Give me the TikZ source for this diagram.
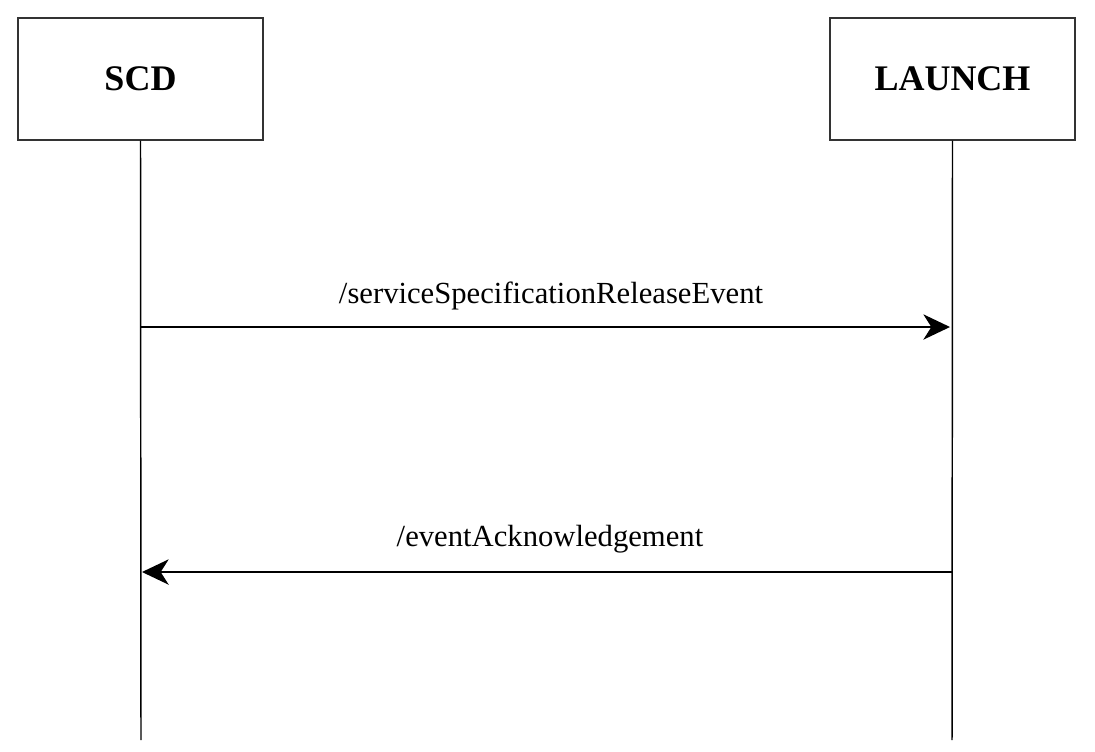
\documentclass[tikz,border=0pt]{standalone}
\usepackage{fontspec}
\setmainfont{Liberation Serif}
\usetikzlibrary{arrows.meta}

\tikzset{
  actor/.style={draw=black!80, thick, minimum width=183.75pt, minimum height=91.5pt,
    font=\fontsize{27}{30}\selectfont\bfseries},
  lifeline/.style={line width=1.1pt},
  msg/.style={line width=1.1pt, -{Stealth[length=20pt, width=19pt, inset=6pt]}},
  msglabel/.style={font=\fontsize{23}{27}\selectfont}
}

\begin{document}
\begin{tikzpicture}[x=0.75pt, y=-0.75pt]
\useasboundingbox (0,0) rectangle (1095,751);

\node[actor] (scd) at (140.5,79) {SCD};
\node[actor] (launch) at (952.5,79) {LAUNCH};

\coordinate (scdend) at (141,740);
\coordinate (launchend) at (952,740);
\draw[lifeline] (scd.south) -- (scdend);
\draw[lifeline] (launch.south) -- (launchend);

\coordinate (m1s) at (141,327);
\coordinate (m1e) at (950,327);
\draw[msg] (m1s) -- (m1e);
\node[msglabel] (m1) at (551,296) {/serviceSpecificationReleaseEvent};

\coordinate (m2s) at (952,572);
\coordinate (m2e) at (142,572);
\draw[msg] (m2s) -- (m2e);
\node[msglabel] (m2) at (550,539) {/eventAcknowledgement};
\end{tikzpicture}
\end{document}
